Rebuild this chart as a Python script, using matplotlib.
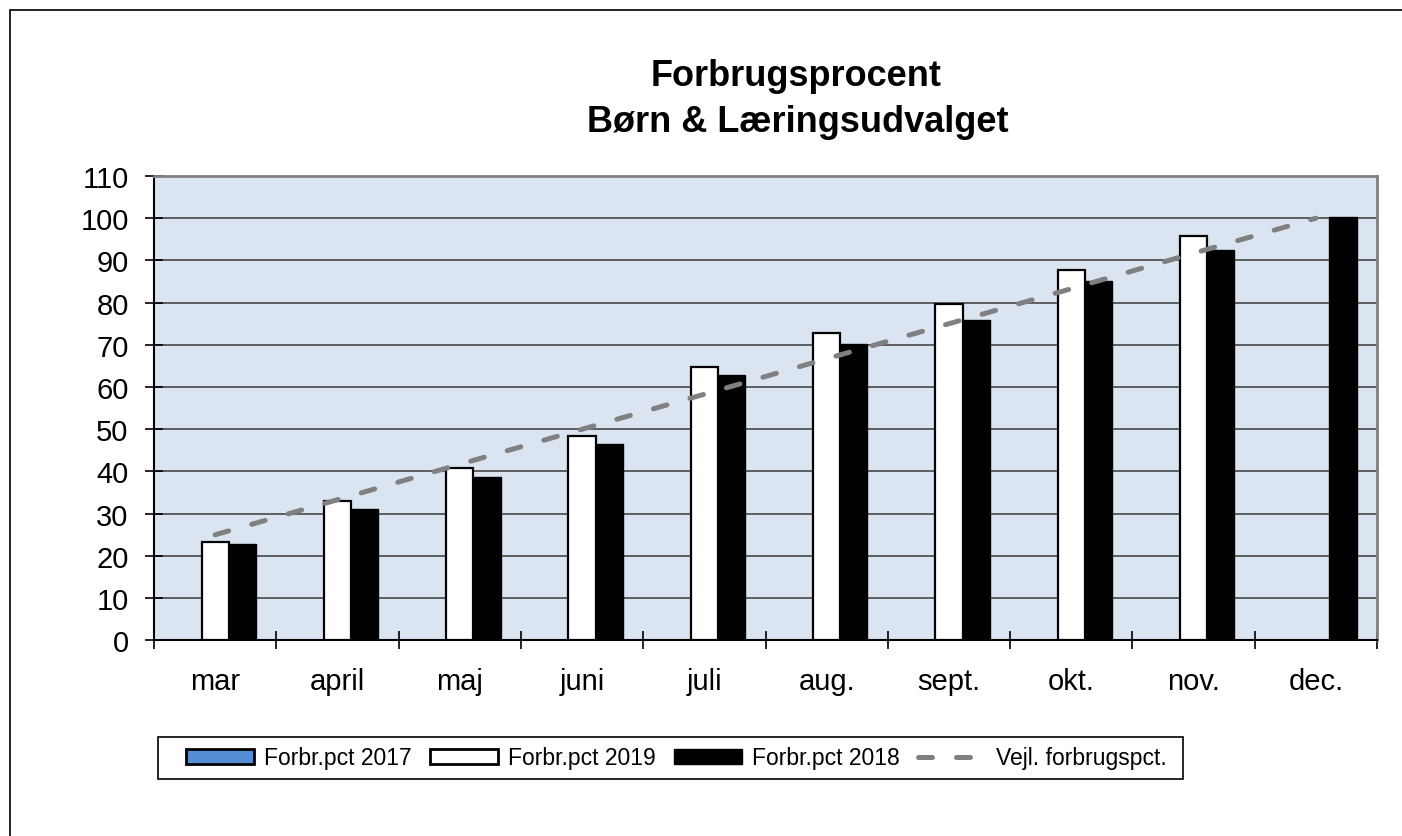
import numpy as np
import matplotlib
matplotlib.use("Agg")
import matplotlib.pyplot as plt
from matplotlib.patches import Patch, Rectangle
from matplotlib.lines import Line2D

plt.rcParams['font.family'] = ['Liberation Sans', 'DejaVu Sans']

months = ['mar', 'april', 'maj', 'juni', 'juli', 'aug.', 'sept.', 'okt.', 'nov.', 'dec.']
pct2017 = [np.nan] * 10
pct2019 = [23.4, 32.9, 40.8, 48.5, 64.8, 72.8, 79.7, 87.8, 95.8, np.nan]
pct2018 = [22.9, 31.0, 38.8, 46.4, 62.9, 70.3, 75.8, 85.2, 92.5, 100.2]
vejl = [25.0, 33.3, 41.7, 50.0, 58.3, 66.7, 75.0, 83.3, 91.7, 100.0]
yticks = [0, 10, 20, 30, 40, 50, 60, 70, 80, 90, 100, 110]

W, H = 1402, 837
fig = plt.figure(figsize=(W / 100, H / 100), dpi=100)
ax = fig.add_axes([154 / W, 1 - 641.3 / H, (1377 - 154) / W, (641.3 - 177) / H])
ax.set_facecolor('#DBE5F1')

x = np.arange(len(months))
bw = 0.2225
ax.bar(x - bw, pct2017, bw, color='#558ED5', edgecolor='black', linewidth=1.6, zorder=3)
ax.bar(x, pct2019, bw, color='white', edgecolor='black', linewidth=1.6, zorder=3)
ax.bar(x + bw, pct2018, bw, color='black', edgecolor='black', linewidth=1.0, zorder=3)
ax.plot(x, vejl, color='#808080', linewidth=3.6, dashes=(2.8, 4.8),
        dash_capstyle='round', zorder=4)

ax.set_xlim(-0.5, len(months) - 0.5)
ax.set_ylim(0, 110)
ax.set_yticks(yticks)
ax.set_yticklabels([str(v) for v in yticks], fontsize=21)
ax.yaxis.grid(True, color='#3a3a3a', linewidth=1.1, zorder=1)
ax.set_axisbelow(True)

ax.set_xticks(x)
ax.set_xticklabels(months, fontsize=21)
ax.set_xticks(np.arange(-0.5, len(months), 1.0), minor=True)
ax.tick_params(axis='x', which='major', length=0, pad=19)
ax.tick_params(axis='x', which='minor', direction='inout', length=12.5, width=1.2)
ax.tick_params(axis='y', direction='inout', length=12.5, width=1.2, pad=12)

for s in ['left', 'bottom']:
    ax.spines[s].set_color('black')
    ax.spines[s].set_linewidth(1.5)
for s in ['top', 'right']:
    ax.spines[s].set_color('#808080')
    ax.spines[s].set_linewidth(2)

fig.text(796 / W, 1 - 76 / H, 'Forbrugsprocent', fontsize=26, fontweight='bold',
         ha='center', va='center')
fig.text(798 / W, 1 - 123 / H, 'Børn & Læringsudvalget', fontsize=26, fontweight='bold',
         ha='center', va='center')

handles = [
    Patch(facecolor='#558ED5', edgecolor='black', linewidth=2),
    Patch(facecolor='white', edgecolor='black', linewidth=2),
    Patch(facecolor='black', edgecolor='black', linewidth=1),
    Line2D([0], [0], color='#808080', linewidth=3.6, dashes=(2.8, 4.8), dash_capstyle='round'),
]
labels = ['Forbr.pct 2017', 'Forbr.pct 2019', 'Forbr.pct 2018', 'Vejl. forbrugspct.']
leg = fig.legend(handles, labels, loc='center', ncol=4,
                 bbox_to_anchor=(676 / W, 1 - 759 / H),
                 fontsize=16.5, frameon=False,
                 handlelength=3.0, handleheight=0.6, handletextpad=0.4, columnspacing=0.8,
                 borderpad=0.3)

# legend frame
fig.patches.append(Rectangle((158 / W, 1 - 780 / H), (1183 - 158) / W, 42 / H,
                             transform=fig.transFigure, fill=False, edgecolor='black',
                             linewidth=1.2))

# outer chart border
fig.patches.append(Rectangle((10 / W, -0.1), 1.2, 1 - 11 / H + 0.1, transform=fig.transFigure,
                             fill=False, edgecolor='black', linewidth=1.2))

fig.savefig('out.png', dpi=100)
